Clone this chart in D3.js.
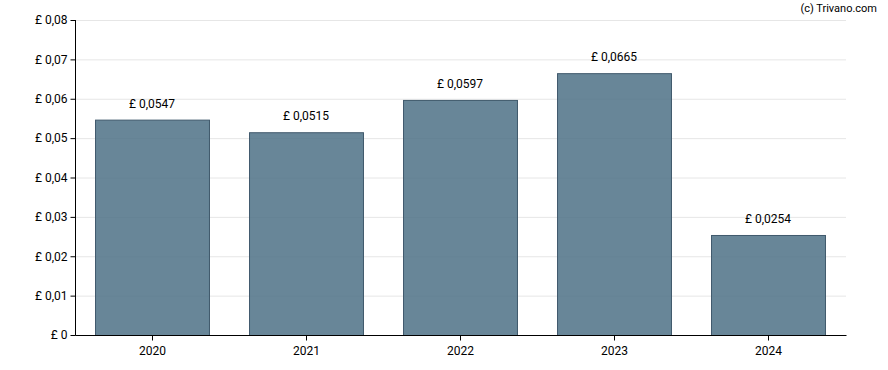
<!DOCTYPE html>
<html><head><meta charset="utf-8">
<script src="https://cdn.jsdelivr.net/npm/d3@7"></script>
<style>body{margin:0;background:#fff;}svg{display:block;font-family:Roboto,Arial,sans-serif;}</style>
</head><body>
<svg id="c" width="888" height="370"></svg>
<script>
const years = ["2020","2021","2022","2023","2024"];
const values = [0.0547,0.0515,0.0597,0.0665,0.0254];
const yTicks = [0,0.01,0.02,0.03,0.04,0.05,0.06,0.07,0.08];

const svg = d3.select("#c");
const m = {l:76, r:846, t:20, b:335};
const x = d3.scaleBand().domain(years).range([m.l-1,m.r-1]).paddingInner(0.26).paddingOuter(0.13);
const y = d3.scaleLinear().domain([0,0.08]).range([m.b,m.t]);
const fmt = v => v===0 ? "£ 0" : "£ " + String(v).replace(".", ",");
const fmtY = v => v===0 ? "£ 0" : "£ " + v.toFixed(2).replace(".", ",");

// grid
svg.append("g").selectAll("line").data(yTicks.slice(1)).join("line")
  .attr("x1",m.l).attr("x2",m.r).attr("y1",d=>y(d)+0.5).attr("y2",d=>y(d)+0.5)
  .attr("stroke","#e6e6e6").attr("stroke-width",1);

// bars
svg.append("g").selectAll("rect").data(values).join("rect")
  .attr("x",(d,i)=>x(years[i])+0.5).attr("width",x.bandwidth())
  .attr("y",d=>y(d)+0.5).attr("height",d=>y(0)-y(d))
  .attr("fill","#4f7287").attr("fill-opacity",0.86)
  .attr("stroke","#40596c").attr("stroke-width",1);

// value labels
svg.append("g").selectAll("text").data(values).join("text")
  .attr("x",(d,i)=>x(years[i])+x.bandwidth()/2).attr("y",d=>y(d)-12)
  .attr("text-anchor","middle").attr("font-size",12).attr("fill","#000")
  .text(d=>fmt(d));

// y axis
const ya = svg.append("g").attr("transform",`translate(${m.l-0.5},0)`)
  .call(d3.axisLeft(y).tickValues(yTicks).tickFormat(fmtY).tickSize(5).tickPadding(3));
ya.select(".domain").attr("stroke","#000").attr("d",`M0,${m.t}V${m.b+0.5}`);
ya.selectAll(".tick line").attr("stroke","#000");
ya.selectAll("text").attr("font-size",12).attr("fill","#000").attr("font-family","Roboto,Arial,sans-serif");

// x axis
const xa = svg.append("g").attr("transform",`translate(0.5,${m.b+0.5})`)
  .call(d3.axisBottom(x).tickSize(5).tickPadding(6));
xa.select(".domain").attr("stroke","#000").attr("d",`M${m.l-1},0H${m.r}`);
xa.selectAll(".tick line").attr("stroke","#000");
xa.selectAll("text").attr("font-size",12).attr("fill","#000").attr("font-family","Roboto,Arial,sans-serif");

// watermark
svg.append("text").attr("x",877).attr("y",12).attr("text-anchor","end")
  .attr("font-size",11).attr("fill","#000").text("(c) Trivano.com");
</script>
</body></html>
